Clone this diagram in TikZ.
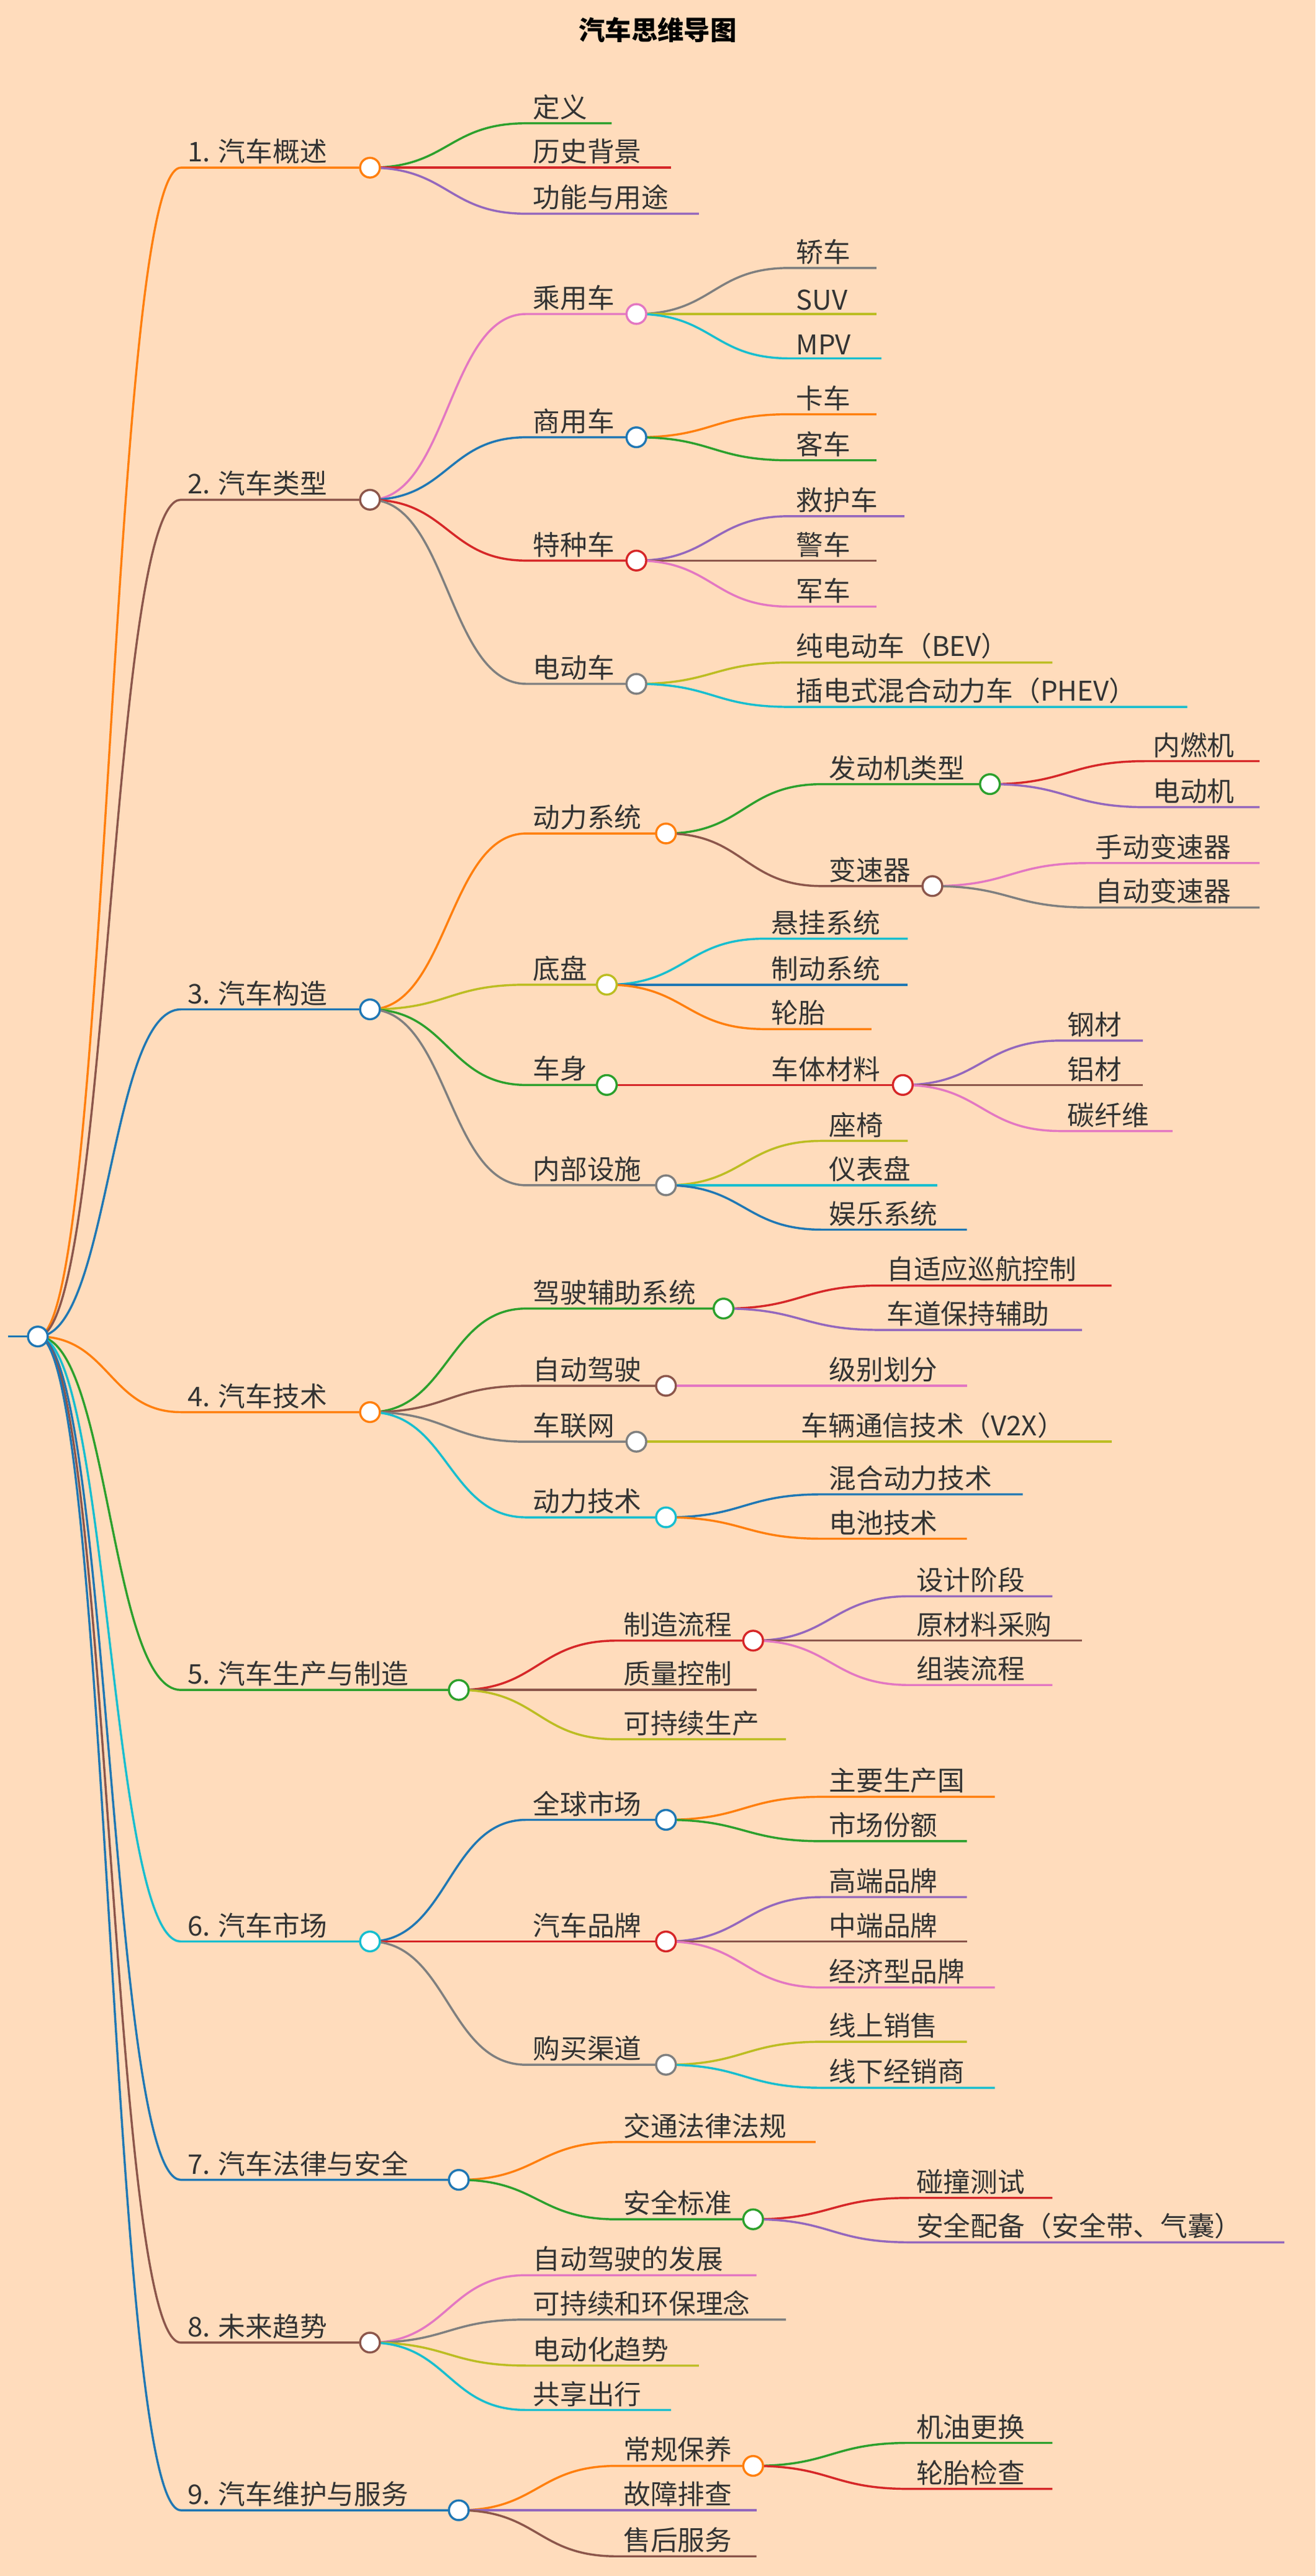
\documentclass[tikz,border=0pt]{standalone}
\usepackage{fontspec}
\setmainfont{Noto Sans CJK SC}
\usetikzlibrary{calc}
\definecolor{mmbg}{RGB}{255,220,188}
\definecolor{mmorange}{RGB}{255,127,14}
\definecolor{mmbrown}{RGB}{140,86,75}
\definecolor{mmblue}{RGB}{31,119,180}
\definecolor{mmgreen}{RGB}{44,160,44}
\definecolor{mmred}{RGB}{214,39,40}
\definecolor{mmpurple}{RGB}{148,103,189}
\definecolor{mmpink}{RGB}{227,119,194}
\definecolor{mmgray}{RGB}{127,127,127}
\definecolor{mmolive}{RGB}{188,189,34}
\definecolor{mmcyan}{RGB}{23,190,207}
\tikzset{
  mmline/.style={line width=1.3pt},
  mmtext/.style={inner sep=2pt, xshift=2pt, text=black!80, font=\fontsize{16.5}{19}\selectfont},
  mmdotstyle/.style={circle, draw, line width=1.3pt, fill=white, minimum size=12pt, inner sep=0pt}
}
% branch: name, parent, x start, x end, y, colour, text
\newcommand\mmbranch[7]{%
  \coordinate (#1-s) at (#3,#5);
  \coordinate (#1) at (#4,#5);
  \draw[mmline,#6] let \p1=(#2), \p2=(#1-s) in
    (\p1) .. controls ({(\x1+\x2)/2},\y1) and ({(\x1+\x2)/2},\y2) .. (\p2) -- (#1);
  \node[mmtext,anchor=south west] (#1-t) at (#1-s) {#7};
}
\newcommand\mmdot[2]{\node[mmdotstyle,draw=#2] at (#1) {};}
\begin{document}
\begin{tikzpicture}[x=1pt,y=-1pt]
  \fill[mmbg] (0,0) rectangle (800,1567);
  \useasboundingbox (0,0) rectangle (800,1567);
  \node[font=\fontsize{16}{19}\selectfont\bfseries] (title) at (400,18) {汽车思维导图};

  \coordinate (root) at (23,813);
  \draw[mmline,mmblue] (5,813) -- (root);

  % 1
  \mmbranch{a}{root}{110}{225}{102}{mmorange}{1. 汽车概述}
  \mmbranch{a1}{a}{320}{372}{75}{mmgreen}{定义}
  \mmbranch{a2}{a}{320}{408}{102}{mmred}{历史背景}
  \mmbranch{a3}{a}{320}{425}{130}{mmpurple}{功能与用途}
  % 2
  \mmbranch{b}{root}{110}{225}{304}{mmbrown}{2. 汽车类型}
  \mmbranch{b1}{b}{320}{387}{191}{mmpink}{乘用车}
  \mmbranch{b2}{b}{320}{387}{266}{mmblue}{商用车}
  \mmbranch{b3}{b}{320}{387}{341}{mmred}{特种车}
  \mmbranch{b4}{b}{320}{387}{416}{mmgray}{电动车}
  \mmbranch{b11}{b1}{480}{533}{163}{mmgray}{轿车}
  \mmbranch{b12}{b1}{480}{533}{191}{mmolive}{SUV}
  \mmbranch{b13}{b1}{480}{536}{218}{mmcyan}{MPV}
  \mmbranch{b21}{b2}{480}{533}{252}{mmorange}{卡车}
  \mmbranch{b22}{b2}{480}{533}{280}{mmgreen}{客车}
  \mmbranch{b31}{b3}{480}{550}{314}{mmpurple}{救护车}
  \mmbranch{b32}{b3}{480}{533}{341}{mmbrown}{警车}
  \mmbranch{b33}{b3}{480}{533}{369}{mmpink}{军车}
  \mmbranch{b41}{b4}{480}{640}{403}{mmolive}{纯电动车（BEV）}
  \mmbranch{b42}{b4}{480}{722}{430}{mmcyan}{插电式混合动力车（PHEV）}
  % 3
  \mmbranch{c}{root}{110}{225}{614}{mmblue}{3. 汽车构造}
  \mmbranch{c1}{c}{320}{405}{507}{mmorange}{动力系统}
  \mmbranch{c2}{c}{320}{369}{599}{mmolive}{底盘}
  \mmbranch{c3}{c}{320}{369}{660}{mmgreen}{车身}
  \mmbranch{c4}{c}{320}{405}{721}{mmgray}{内部设施}
  \mmbranch{c11}{c1}{500}{602}{477}{mmgreen}{发动机类型}
  \mmbranch{c12}{c1}{500}{567}{539}{mmbrown}{变速器}
  \mmbranch{c111}{c11}{697}{766}{463}{mmred}{内燃机}
  \mmbranch{c112}{c11}{697}{766}{491}{mmpurple}{电动机}
  \mmbranch{c121}{c12}{662}{766}{525}{mmpink}{手动变速器}
  \mmbranch{c122}{c12}{662}{766}{552}{mmgray}{自动变速器}
  \mmbranch{c21}{c2}{465}{552}{571}{mmcyan}{悬挂系统}
  \mmbranch{c22}{c2}{465}{552}{599}{mmblue}{制动系统}
  \mmbranch{c23}{c2}{465}{530}{626}{mmorange}{轮胎}
  \mmbranch{c31}{c3}{465}{549}{660}{mmred}{车体材料}
  \mmbranch{c311}{c31}{645}{695}{633}{mmpurple}{钢材}
  \mmbranch{c312}{c31}{645}{695}{660}{mmbrown}{铝材}
  \mmbranch{c313}{c31}{645}{713}{688}{mmpink}{碳纤维}
  \mmbranch{c41}{c4}{500}{552}{694}{mmolive}{座椅}
  \mmbranch{c42}{c4}{500}{570}{721}{mmcyan}{仪表盘}
  \mmbranch{c43}{c4}{500}{588}{748}{mmblue}{娱乐系统}
  % 4
  \mmbranch{d}{root}{110}{225}{859}{mmorange}{4. 汽车技术}
  \mmbranch{d1}{d}{320}{440}{796}{mmgreen}{驾驶辅助系统}
  \mmbranch{d2}{d}{320}{405}{843}{mmbrown}{自动驾驶}
  \mmbranch{d3}{d}{320}{387}{877}{mmgray}{车联网}
  \mmbranch{d4}{d}{320}{405}{923}{mmcyan}{动力技术}
  \mmbranch{d11}{d1}{535}{676}{782}{mmred}{自适应巡航控制}
  \mmbranch{d12}{d1}{535}{658}{809}{mmpurple}{车道保持辅助}
  \mmbranch{d21}{d2}{500}{588}{843}{mmpink}{级别划分}
  \mmbranch{d31}{d3}{483}{676}{877}{mmolive}{车辆通信技术（V2X）}
  \mmbranch{d41}{d4}{500}{622}{909}{mmblue}{混合动力技术}
  \mmbranch{d42}{d4}{500}{588}{936}{mmorange}{电池技术}
  % 5
  \mmbranch{e}{root}{110}{279}{1028}{mmgreen}{5. 汽车生产与制造}
  \mmbranch{e1}{e}{375}{458}{998}{mmred}{制造流程}
  \mmbranch{e2}{e}{375}{460}{1028}{mmbrown}{质量控制}
  \mmbranch{e3}{e}{375}{478}{1058}{mmolive}{可持续生产}
  \mmbranch{e11}{e1}{553}{640}{971}{mmpurple}{设计阶段}
  \mmbranch{e12}{e1}{553}{658}{998}{mmbrown}{原材料采购}
  \mmbranch{e13}{e1}{553}{640}{1025}{mmpink}{组装流程}
  % 6
  \mmbranch{f}{root}{110}{225}{1181}{mmcyan}{6. 汽车市场}
  \mmbranch{f1}{f}{320}{405}{1107}{mmblue}{全球市场}
  \mmbranch{f2}{f}{320}{405}{1181}{mmred}{汽车品牌}
  \mmbranch{f3}{f}{320}{405}{1256}{mmgray}{购买渠道}
  \mmbranch{f11}{f1}{500}{605}{1093}{mmorange}{主要生产国}
  \mmbranch{f12}{f1}{500}{588}{1120}{mmgreen}{市场份额}
  \mmbranch{f21}{f2}{500}{588}{1154}{mmpurple}{高端品牌}
  \mmbranch{f22}{f2}{500}{588}{1181}{mmbrown}{中端品牌}
  \mmbranch{f23}{f2}{500}{605}{1209}{mmpink}{经济型品牌}
  \mmbranch{f31}{f3}{500}{588}{1242}{mmolive}{线上销售}
  \mmbranch{f32}{f3}{500}{605}{1270}{mmcyan}{线下经销商}
  % 7
  \mmbranch{g}{root}{110}{279}{1326}{mmblue}{7. 汽车法律与安全}
  \mmbranch{g1}{g}{375}{496}{1303}{mmorange}{交通法律法规}
  \mmbranch{g2}{g}{375}{458}{1350}{mmgreen}{安全标准}
  \mmbranch{g21}{g2}{553}{640}{1337}{mmred}{碰撞测试}
  \mmbranch{g22}{g2}{553}{781}{1364}{mmpurple}{安全配备（安全带、气囊）}
  % 8
  \mmbranch{h}{root}{110}{225}{1425}{mmbrown}{8. 未来趋势}
  \mmbranch{h1}{h}{320}{460}{1384}{mmpink}{自动驾驶的发展}
  \mmbranch{h2}{h}{320}{478}{1411}{mmgray}{可持续和环保理念}
  \mmbranch{h3}{h}{320}{425}{1439}{mmolive}{电动化趋势}
  \mmbranch{h4}{h}{320}{408}{1466}{mmcyan}{共享出行}
  % 9
  \mmbranch{i}{root}{110}{279}{1527}{mmblue}{9. 汽车维护与服务}
  \mmbranch{i1}{i}{375}{458}{1500}{mmorange}{常规保养}
  \mmbranch{i2}{i}{375}{460}{1527}{mmpurple}{故障排查}
  \mmbranch{i3}{i}{375}{460}{1555}{mmbrown}{售后服务}
  \mmbranch{i11}{i1}{553}{640}{1486}{mmgreen}{机油更换}
  \mmbranch{i12}{i1}{553}{640}{1514}{mmred}{轮胎检查}

  % dots on top
  \mmdot{root}{mmblue}
  \mmdot{a}{mmorange} \mmdot{b}{mmbrown} \mmdot{c}{mmblue}
  \mmdot{d}{mmorange} \mmdot{e}{mmgreen} \mmdot{f}{mmcyan}
  \mmdot{g}{mmblue} \mmdot{h}{mmbrown} \mmdot{i}{mmblue}
  \mmdot{b1}{mmpink} \mmdot{b2}{mmblue} \mmdot{b3}{mmred} \mmdot{b4}{mmgray}
  \mmdot{c1}{mmorange} \mmdot{c2}{mmolive} \mmdot{c3}{mmgreen} \mmdot{c4}{mmgray}
  \mmdot{c11}{mmgreen} \mmdot{c12}{mmbrown} \mmdot{c31}{mmred}
  \mmdot{d1}{mmgreen} \mmdot{d2}{mmbrown} \mmdot{d3}{mmgray} \mmdot{d4}{mmcyan}
  \mmdot{e1}{mmred}
  \mmdot{f1}{mmblue} \mmdot{f2}{mmred} \mmdot{f3}{mmgray}
  \mmdot{g2}{mmgreen} \mmdot{i1}{mmorange}
\end{tikzpicture}
\end{document}
